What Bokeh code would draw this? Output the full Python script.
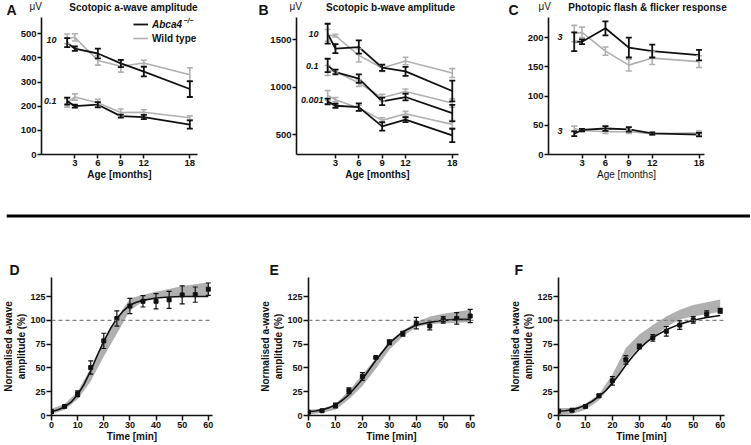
import numpy as np
from bokeh.plotting import figure
from bokeh.layouts import column, row
from bokeh.models import (ColumnDataSource, Whisker, TeeHead, Label, Legend, LegendItem,
                          Span, Range1d, FixedTicker)
from bokeh.embed import file_html
from bokeh.resources import INLINE

FONT = "Liberation Sans"
BLACK = "#111111"
GREY = "#b0b0b0"

# ---------------- data ----------------
age = [2, 3, 6, 9, 12, 18]
age_ticks = [3, 6, 9, 12, 18]

# A: scotopic a-wave amplitude (uV)
a_ko_10 = [463, 438, 418, 377, 343, 271]
a_ko_10_err = [19, 9, 20, 15, 20, 33]
a_wt_10 = [479, 485, 389, 365, 379, 330]
a_wt_10_err = [20, 15, 19, 24, 11, 29]
a_ko_01 = [221, 200, 206, 159, 155, 124]
a_ko_01_err = [14, 6, 11, 6, 9, 17]
a_wt_01 = [214, 238, 214, 174, 175, 152]
a_wt_01_err = [18, 13, 14, 14, 10, 8]

# B: scotopic b-wave amplitude (uV)
b_ko_10 = [1561, 1404, 1421, 1204, 1165, 958]
b_ko_10_err = [105, 47, 70, 33, 47, 109]
b_wt_10 = [1544, 1540, 1333, 1200, 1274, 1147]
b_wt_10_err = [62, 14, 70, 35, 40, 47]
b_ko_01 = [1228, 1158, 1088, 849, 895, 726]
b_ko_01_err = [70, 25, 45, 40, 35, 87]
b_wt_01 = [1175, 1165, 1042, 888, 954, 832]
b_wt_01_err = [52, 18, 35, 35, 26, 44]
b_ko_0001 = [849, 803, 789, 586, 656, 491]
b_ko_0001_err = [30, 21, 39, 44, 26, 70]
b_wt_0001 = [912, 867, 779, 649, 719, 607]
b_wt_0001_err = [52, 23, 30, 28, 25, 40]

# C: photopic flash & flicker (uV)
c_ko_flash = [193, 193, 216, 183, 177, 170]
c_ko_flash_err = [16, 4, 12, 17, 11, 9]
c_wt_flash = [207, 209, 177, 153, 165, 159]
c_wt_flash_err = [14, 9, 7, 10, 11, 10]
c_ko_flick = [35.5, 42, 44.5, 43, 36, 34]
c_ko_flick_err = [4, 2, 4, 4, 2, 3]
c_wt_flick = [44.5, 41, 39, 39, 35.5, 37]
c_wt_flick_err = [4, 3, 3, 3, 2, 3]

# D-F: normalised a-wave recovery (%)
time = [0, 5, 10, 15, 20, 25, 30, 35, 40, 45, 50, 55, 60]
time_ticks = [0, 10, 20, 30, 40, 50, 60]
norm_ticks = [0, 25, 50, 75, 100, 125]
fit_time = [0, 2.5, 5, 7.5, 10, 12.5, 15, 17.5, 20, 22.5, 25, 27.5, 30, 32.5, 35, 40, 45, 50, 55, 60]

d_mean = [4, 9.5, 22.8, 50.4, 78.4, 102, 115, 120, 120, 121.5, 126.7, 127, 132.7]
d_err = [1.5, 1, 3, 7, 8, 8, 8, 6, 8, 9, 9.5, 8, 6.5]
d_fit = [4, 6, 9, 14, 22, 33, 47, 63, 78, 91, 102, 110, 116, 119, 121, 123.5, 124.5, 125, 125, 125]
d_band_lo = [1.5, 6, 17, 36, 62, 86, 110, 120, 124, 125, 125, 125, 125]
d_band_hi = [7, 12, 25, 50, 79, 102, 123, 127, 130, 133, 136, 138, 140]

e_mean = [3.5, 5, 10.5, 26, 41, 61, 77, 86, 97, 94, 100.5, 102, 104.5]
e_err = [1, 1, 2.5, 3, 4, 1, 2.5, 2.5, 6, 4, 3.5, 6, 7]
e_fit = [4, 4.8, 6, 8, 11, 16, 22, 30, 38, 48, 58, 67, 76, 82, 88, 95, 98, 100, 101, 101]
e_band_lo = [1, 3, 6, 17, 31, 49, 69, 83, 93, 96, 97, 97.5, 98]
e_band_hi = [6, 7, 12, 26, 43, 60, 78, 89, 98, 104, 107, 109, 111]

f_mean = [4.5, 5.5, 9.5, 20.7, 36.4, 58.5, 72.5, 81.5, 88.5, 95, 100.5, 106.5, 110]
f_err = [1, 1, 1, 1.5, 4.5, 4.5, 2.5, 3.5, 5, 4.5, 3.5, 3.5, 2.5]
f_fit = [4.5, 5, 6, 8, 11, 15, 20, 26, 34, 43, 53, 62, 70, 76.5, 82, 90, 96, 100, 103, 105]
f_band_lo = [0.5, 1.5, 6, 16, 33, 56, 72, 82, 93, 101, 104, 106.5, 109]
f_band_hi = [8, 8, 12, 22, 43, 71, 85, 95, 104, 111, 116, 119, 122]


# ---------------- helpers ----------------
def make_fig(w, h, left, right, top, bottom, xr, yr):
    p = figure(width=w, height=h, min_border_left=left, min_border_right=right,
               min_border_top=top, min_border_bottom=bottom,
               x_range=Range1d(*xr), y_range=Range1d(*yr),
               output_backend="svg", toolbar_location=None, tools="")
    p.outline_line_color = None
    p.xgrid.visible = False
    p.ygrid.visible = False
    p.background_fill_color = "white"
    p.border_fill_color = "white"
    for ax in (p.xaxis[0], p.yaxis[0]):
        ax.axis_line_width = 1.6
        ax.axis_line_color = BLACK
        ax.major_tick_line_width = 1.5
        ax.major_tick_line_color = BLACK
        ax.major_tick_out = 4
        ax.major_tick_in = 0
        ax.minor_tick_out = 0
        ax.minor_tick_in = 0
        ax.major_label_text_font = FONT
        ax.major_label_text_font_style = "bold"
        ax.major_label_text_font_size = "9.5px"
        ax.major_label_text_color = BLACK
        ax.major_label_standoff = 1
        ax.axis_label_text_font = FONT
        ax.axis_label_text_font_size = "10px"
        ax.axis_label_text_font_style = "bold"
        ax.axis_label_text_color = BLACK
        ax.axis_label_standoff = 0
    return p


def header_fig(w, h, left=0):
    p = figure(width=w, height=h, min_border_left=left, min_border_right=0,
               min_border_top=0, min_border_bottom=0, x_range=Range1d(0, 1),
               y_range=Range1d(0, 1), x_axis_location=None, y_axis_location=None,
               output_backend="svg", toolbar_location=None, tools="")
    p.grid.visible = False
    p.outline_line_color = None
    p.background_fill_color = "white"
    p.border_fill_color = "white"
    return p


def head_text(p, h, cx, cy, text, size, style="normal", align="left"):
    """cx, cy measured from the header's top-left corner."""
    p.add_layout(Label(x=cx, y=h - cy, x_units="screen", y_units="screen", text=text,
                       text_font=FONT, text_font_size=size, text_font_style=style,
                       text_align=align, text_baseline="alphabetic", text_color=BLACK))


def frame_text(p, fx, fy, text, size, style="normal", align="left", baseline="middle"):
    p.add_layout(Label(x=fx, y=fy, x_units="screen", y_units="screen", text=text,
                       text_font=FONT, text_font_size=size, text_font_style=style,
                       text_align=align, text_baseline=baseline, text_color=BLACK))


def series_label(p, fx, yval, text, size="9px"):
    p.add_layout(Label(x=fx, y=yval, x_units="screen", y_units="data", text=text,
                       text_font=FONT, text_font_size=size, text_font_style="bold italic",
                       text_align="right", text_baseline="middle", text_color=BLACK))


def age_series(p, x, y, err, color, width, cap=6):
    y = np.asarray(y, float)
    err = np.asarray(err, float)
    src = ColumnDataSource(dict(x=x, y=y, lo=y - err, hi=y + err))
    r = p.line("x", "y", source=src, line_color=color, line_width=width)
    p.add_layout(Whisker(base="x", upper="hi", lower="lo", source=src, dimension="height",
                         line_color=color, line_width=width, level="annotation",
                         upper_head=TeeHead(size=cap, line_color=color, line_width=width),
                         lower_head=TeeHead(size=cap, line_color=color, line_width=width)))
    return r


# ---------------- top header (panel letters, units, titles) ----------------
TOP_HEAD_H = 17
top_head = header_fig(750, TOP_HEAD_H)
for letter_x, letter, uv_x, title_cx, title in ((0, "A", 23, 127, "Scotopic a-wave amplitude"),
                                                (252, "B", 283, 384, "Scotopic b-wave amplitude"),
                                                (502, "C", 532, 641, "Photopic flash & flicker response")):
    head_text(top_head, TOP_HEAD_H, letter_x, 9.3, letter, "14px", "bold")
    head_text(top_head, TOP_HEAD_H, uv_x, 6.3, "\u03bcV", "10px", "normal")
    head_text(top_head, TOP_HEAD_H, title_cx, 7.0, title, "10px", "bold", align="center")

# ---------------- top row ----------------
TOP_H = 167


def top_panel(width, left, right, xr, yr, yticks, xlabel_bold=True):
    p = make_fig(width, TOP_H, left, right, 0, 30, xr, yr)
    p.xaxis.ticker = FixedTicker(ticks=age_ticks)
    p.yaxis.ticker = FixedTicker(ticks=yticks)
    p.xaxis.axis_label = "Age [months]"
    if not xlabel_bold:
        p.xaxis.axis_label_text_font_style = "normal"
    return p


pA = top_panel(250, 41, 53, (-1.35, 19.0), (0, 567), [0, 100, 200, 300, 400, 500])
r_wt = age_series(pA, age, a_wt_10, a_wt_10_err, GREY, 1.6)
age_series(pA, age, a_wt_01, a_wt_01_err, GREY, 1.6)
r_ko = age_series(pA, age, a_ko_10, a_ko_10_err, BLACK, 1.8)
age_series(pA, age, a_ko_01, a_ko_01_err, BLACK, 1.8)
series_label(pA, 15, 474, "10")
series_label(pA, 15, 221, "0.1")
for loc, item_label, rend, fstyle in (((92, 124), "Abca4", r_ko, "bold italic"),
                                       ((92, 110), "Wild type", r_wt, "bold")):
    lg = Legend(items=[LegendItem(label=item_label, renderers=[rend])], location=loc,
                glyph_width=15, glyph_height=12, label_height=12, label_standoff=4,
                padding=0, margin=0, spacing=0, border_line_color=None,
                background_fill_alpha=0, label_text_font=FONT, label_text_font_size="10px",
                label_text_font_style=fstyle, label_text_color=BLACK)
    pA.add_layout(lg, "center")
frame_text(pA, 142, 134, "\u2212/\u2212", "7px", "bold italic")

pB = top_panel(250, 46, 42, (-2.0, 18.8), (290, 1732), [500, 1000, 1500])
age_series(pB, age, b_wt_10, b_wt_10_err, GREY, 1.6)
age_series(pB, age, b_wt_01, b_wt_01_err, GREY, 1.6)
age_series(pB, age, b_wt_0001, b_wt_0001_err, GREY, 1.6)
age_series(pB, age, b_ko_10, b_ko_10_err, BLACK, 1.8)
age_series(pB, age, b_ko_01, b_ko_01_err, BLACK, 1.8)
age_series(pB, age, b_ko_0001, b_ko_0001_err, BLACK, 1.8)
series_label(pB, 22, 1562, "10")
series_label(pB, 22, 1218, "0.1")
series_label(pB, 27, 867, "0.001")

pC = top_panel(250, 48, 46, (-1.3, 18.7), (0, 234.5), [0, 50, 100, 150, 200], xlabel_bold=False)
age_series(pC, age, c_wt_flash, c_wt_flash_err, GREY, 1.6)
age_series(pC, age, c_wt_flick, c_wt_flick_err, GREY, 1.6)
age_series(pC, age, c_ko_flash, c_ko_flash_err, BLACK, 1.8)
age_series(pC, age, c_ko_flick, c_ko_flick_err, BLACK, 1.8)
series_label(pC, 14, 201, "3")
series_label(pC, 14, 40, "3")

# ---------------- separator ----------------
SEP_H = 75
sep = header_fig(750, SEP_H, left=6)
sep.add_layout(Span(location=1 - 31.5 / SEP_H, dimension="width", line_color="black", line_width=3))

# ---------------- bottom header (panel letters) ----------------
BOT_HEAD_H = 18
bot_head = header_fig(750, BOT_HEAD_H)
for lx, letter in ((3, "D"), (263, "E"), (508, "F")):
    head_text(bot_head, BOT_HEAD_H, lx, 10.5, letter, "14px", "bold")

# ---------------- bottom row ----------------
BOT_H = 167


def recovery_panel(width, left, right, mean, err, fit, band_lo, band_hi):
    p = make_fig(width, BOT_H, left, right, 0, 29, (0, 61.6), (0, 145))
    p.xaxis.ticker = FixedTicker(ticks=time_ticks)
    p.yaxis.ticker = FixedTicker(ticks=norm_ticks)
    p.xaxis.axis_label = "Time [min]"
    p.yaxis.axis_label = "Normalised a-wave\namplitude (%)"
    for ax in (p.xaxis[0], p.yaxis[0]):
        ax.major_tick_out = 5
        ax.major_label_text_font_size = "9px"
    p.varea(x=time, y1=band_lo, y2=band_hi, fill_color=GREY, fill_alpha=1)
    p.add_layout(Span(location=100, dimension="width", line_color="#808080",
                      line_width=1.2, line_dash="4 3"))
    p.line(fit_time, fit, line_color=BLACK, line_width=1.6)
    m = np.asarray(mean, float)
    e = np.asarray(err, float)
    src = ColumnDataSource(dict(x=time, y=m, lo=m - e, hi=m + e))
    p.add_layout(Whisker(base="x", upper="hi", lower="lo", source=src, dimension="height",
                         line_color=BLACK, line_width=1.2, level="annotation",
                         upper_head=TeeHead(size=5, line_color=BLACK, line_width=1.2),
                         lower_head=TeeHead(size=5, line_color=BLACK, line_width=1.2)))
    p.scatter("x", "y", source=src, marker="square", size=4, color=BLACK)
    return p


pD = recovery_panel(250, 45, 38, d_mean, d_err, d_fit, d_band_lo, d_band_hi)
pE = recovery_panel(250, 58, 26, e_mean, e_err, e_fit, e_band_lo, e_band_hi)
pF = recovery_panel(250, 58, 26, f_mean, f_err, f_fit, f_band_lo, f_band_hi)

layout = column(top_head, row(pA, pB, pC, spacing=0), sep, bot_head,
                row(pD, pE, pF, spacing=0), spacing=0)
open("out.html", "w").write(file_html(layout, INLINE))
